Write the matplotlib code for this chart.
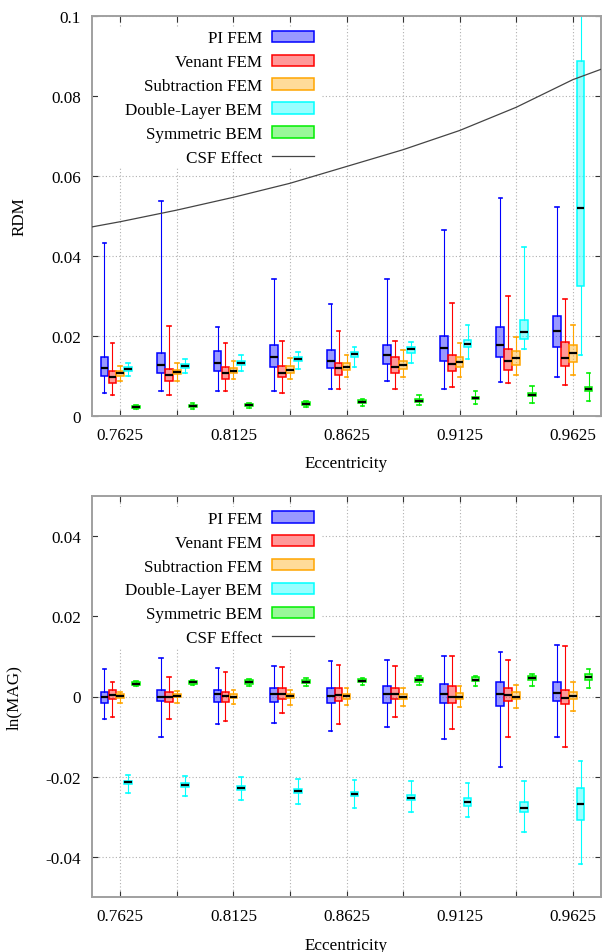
import matplotlib
matplotlib.use('Agg')
import matplotlib.pyplot as plt
from matplotlib.patches import Patch, Rectangle
from matplotlib.lines import Line2D
from matplotlib.colors import to_rgba

plt.rcParams['font.family'] = ['Liberation Serif', 'DejaVu Serif']

# ---------------- data ----------------
eccentricity = [0.7625, 0.7875, 0.8125, 0.8375, 0.8625, 0.8875, 0.9125, 0.9375, 0.9625]
xtick_values = [0.7625, 0.8125, 0.8625, 0.9125, 0.9625]
xtick_labels = ['0.7625', '0.8125', '0.8625', '0.9125', '0.9625']
methods = ['PI FEM', 'Venant FEM', 'Subtraction FEM', 'Double-Layer BEM', 'Symmetric BEM']
csf_label = 'CSF Effect'

rdm_yticks = [0, 0.02, 0.04, 0.06, 0.08, 0.1]
rdm_ytick_labels = ['0', '0.02', '0.04', '0.06', '0.08', '0.1']
mag_yticks = [-0.04, -0.02, 0, 0.02, 0.04]
mag_ytick_labels = ['-0.04', '-0.02', '0', '0.02', '0.04']

# each: [whisker low, q1, median, q3, whisker high]
rdm_pi = [[0.0057, 0.0063, 0.0061, 0.0062, 0.0066, 0.0088, 0.0068, 0.0085, 0.0096],
          [0.0100, 0.0107, 0.0113, 0.0121, 0.0119, 0.0129, 0.0136, 0.0148, 0.0171],
          [0.0120, 0.0128, 0.0133, 0.0148, 0.0137, 0.0152, 0.0170, 0.0178, 0.0212],
          [0.0148, 0.0157, 0.0161, 0.0178, 0.0164, 0.0178, 0.0200, 0.0223, 0.0249],
          [0.0433, 0.0536, 0.0223, 0.0343, 0.0280, 0.0343, 0.0464, 0.0544, 0.0523]]
rdm_venant = [[0.0052, 0.0052, 0.0061, 0.0057, 0.0066, 0.0068, 0.0073, 0.0083, 0.0078],
              [0.0083, 0.0088, 0.0091, 0.0096, 0.0103, 0.0108, 0.0111, 0.0115, 0.0124],
              [0.0098, 0.0103, 0.0107, 0.0107, 0.0119, 0.0123, 0.0129, 0.0137, 0.0145],
              [0.0111, 0.0116, 0.0121, 0.0124, 0.0133, 0.0148, 0.0153, 0.0168, 0.0185],
              [0.0183, 0.0224, 0.0181, 0.0187, 0.0211, 0.0188, 0.0283, 0.0300, 0.0293]]
rdm_subtraction = [[0.0088, 0.0088, 0.0091, 0.0093, 0.0097, 0.0098, 0.0098, 0.0101, 0.0103],
                   [0.0100, 0.0104, 0.0108, 0.0108, 0.0114, 0.0116, 0.0121, 0.0128, 0.0134],
                   [0.0106, 0.0109, 0.0113, 0.0115, 0.0121, 0.0127, 0.0135, 0.0144, 0.0157],
                   [0.0111, 0.0114, 0.0120, 0.0125, 0.0133, 0.0138, 0.0148, 0.0161, 0.0178],
                   [0.0124, 0.0132, 0.0138, 0.0145, 0.0153, 0.0165, 0.0181, 0.0198, 0.0226]]
rdm_double_layer = [[0.0100, 0.0106, 0.0111, 0.0116, 0.0123, 0.0132, 0.0141, 0.0168, 0.0151],
                    [0.0112, 0.0120, 0.0128, 0.0137, 0.0147, 0.0158, 0.0173, 0.0193, 0.0325],
                    [0.0117, 0.0125, 0.0133, 0.0143, 0.0154, 0.0166, 0.0180, 0.0210, 0.0519],
                    [0.0121, 0.0130, 0.0138, 0.0148, 0.0160, 0.0173, 0.0190, 0.0240, 0.0886],
                    [0.0133, 0.0143, 0.0151, 0.0160, 0.0173, 0.0185, 0.0227, 0.0423, 0.1200]]
rdm_symmetric = [[0.0017, 0.0018, 0.0020, 0.0021, 0.0025, 0.0026, 0.0029, 0.0032, 0.0038],
                 [0.0019, 0.0022, 0.0024, 0.0027, 0.0031, 0.0034, 0.0041, 0.0049, 0.0061],
                 [0.0022, 0.0024, 0.0027, 0.0030, 0.0035, 0.0038, 0.0045, 0.0053, 0.0067],
                 [0.0024, 0.0028, 0.0030, 0.0034, 0.0039, 0.0043, 0.0048, 0.0058, 0.0073],
                 [0.0026, 0.0031, 0.0033, 0.0037, 0.0042, 0.0053, 0.0062, 0.0075, 0.0106]]

mag_pi = [[-0.0055, -0.0102, -0.0068, -0.0067, -0.0086, -0.0077, -0.0105, -0.0177, -0.0102],
          [-0.0017, -0.0012, -0.0014, -0.0014, -0.0015, -0.0015, -0.0016, -0.0023, -0.0012],
          [-0.0002, 0.0000, 0.0005, 0.0005, 0.0002, 0.0007, 0.0006, 0.0007, 0.0009],
          [0.0012, 0.0017, 0.0017, 0.0022, 0.0022, 0.0027, 0.0030, 0.0037, 0.0037],
          [0.0068, 0.0097, 0.0072, 0.0077, 0.0089, 0.0092, 0.0102, 0.0112, 0.0129]]
mag_venant = [[-0.0050, -0.0057, -0.0060, -0.0042, -0.0068, -0.0052, -0.0082, -0.0102, -0.0127],
              [-0.0007, -0.0013, -0.0013, -0.0007, -0.0011, -0.0007, -0.0015, -0.0012, -0.0019],
              [0.0003, 0.0000, 0.0001, 0.0007, 0.0004, 0.0005, -0.0001, 0.0003, -0.0003],
              [0.0015, 0.0012, 0.0012, 0.0020, 0.0022, 0.0020, 0.0026, 0.0022, 0.0017],
              [0.0037, 0.0048, 0.0062, 0.0074, 0.0079, 0.0077, 0.0102, 0.0092, 0.0127]]
mag_subtraction = [[-0.0015, -0.0017, -0.0019, -0.0020, -0.0022, -0.0023, -0.0027, -0.0028, -0.0037],
                   [-0.0003, -0.0002, -0.0004, -0.0004, -0.0006, -0.0007, -0.0007, -0.0007, -0.0007],
                   [0.0001, 0.0001, 0.0000, 0.0001, 0.0001, 0.0000, 0.0000, 0.0000, 0.0002],
                   [0.0005, 0.0005, 0.0006, 0.0005, 0.0007, 0.0007, 0.0008, 0.0010, 0.0010],
                   [0.0012, 0.0014, 0.0017, 0.0017, 0.0020, 0.0022, 0.0026, 0.0029, 0.0037]]
mag_double_layer = [[-0.0241, -0.0249, -0.0257, -0.0267, -0.0277, -0.0287, -0.0300, -0.0337, -0.0417],
                    [-0.0218, -0.0226, -0.0232, -0.0240, -0.0249, -0.0259, -0.0274, -0.0289, -0.0309],
                    [-0.0214, -0.0221, -0.0227, -0.0235, -0.0244, -0.0253, -0.0264, -0.0278, -0.0268],
                    [-0.0210, -0.0216, -0.0222, -0.0230, -0.0238, -0.0246, -0.0254, -0.0262, -0.0227],
                    [-0.0195, -0.0198, -0.0201, -0.0205, -0.0207, -0.0210, -0.0215, -0.0210, -0.0161]]
mag_symmetric = [[0.0027, 0.0028, 0.0027, 0.0027, 0.0028, 0.0028, 0.0026, 0.0025, 0.0022],
                 [0.0029, 0.0032, 0.0032, 0.0033, 0.0035, 0.0037, 0.0038, 0.0040, 0.0042],
                 [0.0032, 0.0035, 0.0036, 0.0037, 0.0039, 0.0042, 0.0042, 0.0046, 0.0048],
                 [0.0036, 0.0038, 0.0040, 0.0042, 0.0043, 0.0046, 0.0049, 0.0052, 0.0057],
                 [0.0039, 0.0042, 0.0044, 0.0045, 0.0047, 0.0050, 0.0052, 0.0057, 0.0068]]

csf_x = [0.75, 0.7625, 0.7875, 0.8125, 0.8375, 0.8625, 0.8875, 0.9125, 0.9375, 0.9625, 0.975]
csf_rdm = [0.0472, 0.0485, 0.0514, 0.0546, 0.0581, 0.0623, 0.0665, 0.0713, 0.0771, 0.0840, 0.0866]

# ---------------- style ----------------
edge_colors = ['#0000ff', '#ff0000', '#ffa500', '#00ffff', '#00ee00']
fill_alpha = 0.4
offsets = [-0.007, -0.0035, 0.0, 0.0035, 0.007]
box_width = 0.0034
cap_width = 0.0016
FS = 12.3

W, H = 602, 953
fig = plt.figure(figsize=(W / 100, H / 100), dpi=100)


def px_axes(x0, y0, x1, y1):
    return fig.add_axes([x0 / W, 1 - y1 / H, (x1 - x0) / W, (y1 - y0) / H])


ax_top = px_axes(92, 16.7, 601, 416.7)
ax_bot = px_axes(92, 497, 601, 898)


def draw_panel(ax, series, ylim, yticks, yticklabels, ylabel, csf=None):
    ax.set_axisbelow(True)
    for m, (data, col) in enumerate(zip(series, edge_colors)):
        lo, q1, med, q3, hi = data
        stats = [dict(whislo=lo[i], q1=q1[i], med=med[i], q3=q3[i], whishi=hi[i])
                 for i in range(len(eccentricity))]
        pos = [e + offsets[m] for e in eccentricity]
        ax.bxp(stats, positions=pos, widths=box_width, capwidths=cap_width,
               patch_artist=True, showfliers=False, manage_ticks=False,
               boxprops=dict(facecolor=to_rgba(col, fill_alpha), edgecolor=col, linewidth=1.1),
               whiskerprops=dict(color=col, linewidth=0.8),
               capprops=dict(color=col, linewidth=1.2),
               medianprops=dict(color='black', linewidth=1.6, solid_capstyle='butt'))
    if csf is not None:
        ax.plot(csf_x, csf, color='#444444', linewidth=0.9, zorder=3)
    # opaque key background
    ax.add_patch(Rectangle((0.012, 0.622), 0.44, 0.35, transform=ax.transAxes,
                           facecolor='white', edgecolor='none', zorder=1))
    handles = [Patch(facecolor=to_rgba(c, fill_alpha), edgecolor=c, linewidth=1.1)
               for c in edge_colors]
    handles.append(Line2D([], [], color='#444444', linewidth=0.9))
    ax.legend(handles, methods + [csf_label], loc='upper right',
              bbox_to_anchor=((314 - 92) / 509, (416.7 - 31.5) / 400),
              frameon=False, markerfirst=False, fontsize=FS,
              handlelength=2.45, handleheight=0.66, handletextpad=0.6,
              labelspacing=0.46, borderpad=0, borderaxespad=0)

    ax.set_xlim(0.75, 0.975)
    ax.set_ylim(*ylim)
    ax.set_xticks(xtick_values, xtick_labels)
    ax.set_xticks(eccentricity, minor=True)
    ax.set_yticks(yticks, yticklabels)
    ax.grid(True, which='both', axis='x', linestyle=(0, (1, 2)), color='#b0b0b0', linewidth=0.8)
    ax.grid(True, which='major', axis='y', linestyle=(0, (1, 2)), color='#b0b0b0', linewidth=0.8)
    ax.tick_params(which='both', direction='in', top=True, right=True, length=4,
                   width=0.8, color='#333333', labelsize=FS)
    ax.tick_params(axis='y', pad=8)
    ax.tick_params(axis='x', pad=8)
    for s in ax.spines.values():
        s.set_color('#a0a0a0')
        s.set_linewidth(1.4)
    ax.set_xlabel('Eccentricity', fontsize=FS, labelpad=9)
    ax.set_ylabel(ylabel, fontsize=FS, labelpad=17)


draw_panel(ax_top, [rdm_pi, rdm_venant, rdm_subtraction, rdm_double_layer, rdm_symmetric],
           (0, 0.1), rdm_yticks, rdm_ytick_labels, 'RDM', csf=csf_rdm)
draw_panel(ax_bot, [mag_pi, mag_venant, mag_subtraction, mag_double_layer, mag_symmetric],
           (-0.05, 0.05), mag_yticks, mag_ytick_labels, 'ln(MAG)')

fig.savefig('out.png', dpi=100)
